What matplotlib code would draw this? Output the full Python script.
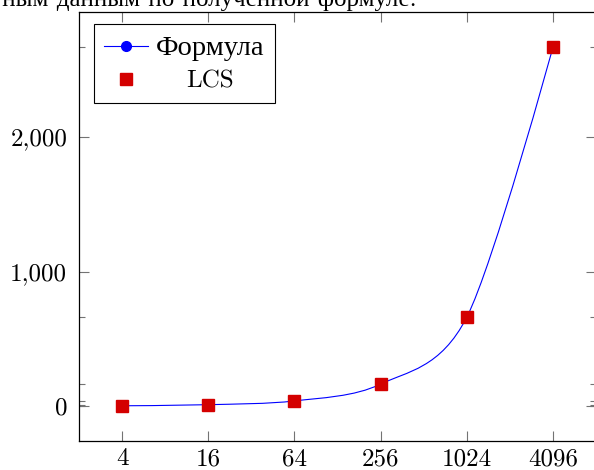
import matplotlib
matplotlib.use("Agg")
import matplotlib.pyplot as plt
import numpy as np
from matplotlib.path import Path
from matplotlib.patches import PathPatch
from matplotlib.lines import Line2D

plt.rcParams["font.family"] = ["cmr10", "Liberation Serif"]
plt.rcParams["axes.formatter.use_mathtext"] = True
plt.rcParams["font.size"] = 18

# sequence length n and measured / predicted values
n = [4, 16, 64, 256, 1024, 4096]
formula = [2, 10, 38, 163, 660, 2668]
lcs = [2, 10, 38, 163, 660, 2668]
ytick_vals = [0, 1000, 2000]
ytick_labels = ["0", "1,000", "2,000"]
title = "Сравнение результатов по известным данным по полученной формуле."


def smooth_path(xs, ys, tension=0.55):
    # tikz-style smooth curve, built in log2(x) space so it is straight on screen
    u = np.log2(xs)
    v = np.asarray(ys, dtype=float)
    t = 0.2775 * tension
    k = len(u)
    verts = [(u[0], v[0])]
    codes = [Path.MOVETO]
    for i in range(k - 1):
        if i == 0:
            c1 = (u[0], v[0])
        else:
            c1 = (u[i] + t * (u[i + 1] - u[i - 1]), v[i] + t * (v[i + 1] - v[i - 1]))
        if i + 1 == k - 1:
            c2 = (u[k - 1], v[k - 1])
        else:
            c2 = (u[i + 1] - t * (u[i + 2] - u[i]), v[i + 1] - t * (v[i + 2] - v[i]))
        verts += [c1, c2, (u[i + 1], v[i + 1])]
        codes += [Path.CURVE4] * 3
    verts = np.array(verts)
    verts[:, 0] = 2.0 ** verts[:, 0]
    return Path(verts, codes)


fig = plt.figure(figsize=(5.94, 4.70), dpi=100)
ax = fig.add_axes([79 / 594, 29 / 470, (596 - 79) / 594, (441 - 12) / 470])

ax.set_xscale("log", base=2)
ax.add_patch(PathPatch(smooth_path(n, formula), facecolor="none",
                       edgecolor="blue", lw=0.8, zorder=2))
ax.plot(n, formula, "o", color="blue", ms=7, zorder=2)
ax.plot(n, lcs, "s", color="#d40000", ms=8.5, zorder=3)

ax.set_xlim(2, 8192)
ax.set_ylim(-260, 2930)

ax.set_xticks(n, labels=[str(v) for v in n])
ax.xaxis.set_minor_locator(matplotlib.ticker.NullLocator())
ax.set_yticks(ytick_vals, labels=ytick_labels)
ax.set_yticks(lcs, minor=True)

ax.tick_params(which="both", direction="in", top=True, right=True,
               color="0.45", width=0.8)
ax.tick_params(which="major", length=7)
ax.tick_params(which="minor", length=4.5)
ax.tick_params(axis="y", pad=8.5)
ax.tick_params(axis="x", pad=5)
for s in ax.spines.values():
    s.set_linewidth(0.9)

handles = [
    Line2D([], [], color="blue", lw=0.8, marker="o", ms=7),
    Line2D([], [], color="#d40000", ls="none", marker="s", ms=8.5),
]
leg = ax.legend(handles, ["Формула", "LCS"], loc="upper left",
                bbox_to_anchor=(0.029, 0.972), fancybox=False, framealpha=1,
                edgecolor="black", handlelength=1.75, handletextpad=0.3,
                borderpad=0.42, labelspacing=0.38, borderaxespad=0)
leg.get_frame().set_linewidth(0.8)
leg.get_texts()[0].set_fontsize(20.5)
leg.get_texts()[1].set_x(30)

# title sits mostly above the top edge of the canvas
fig.text(417 / 594, 1 - 6 / 470, title, ha="right", va="baseline", fontsize=18)

fig.savefig("out.png", dpi=100)
